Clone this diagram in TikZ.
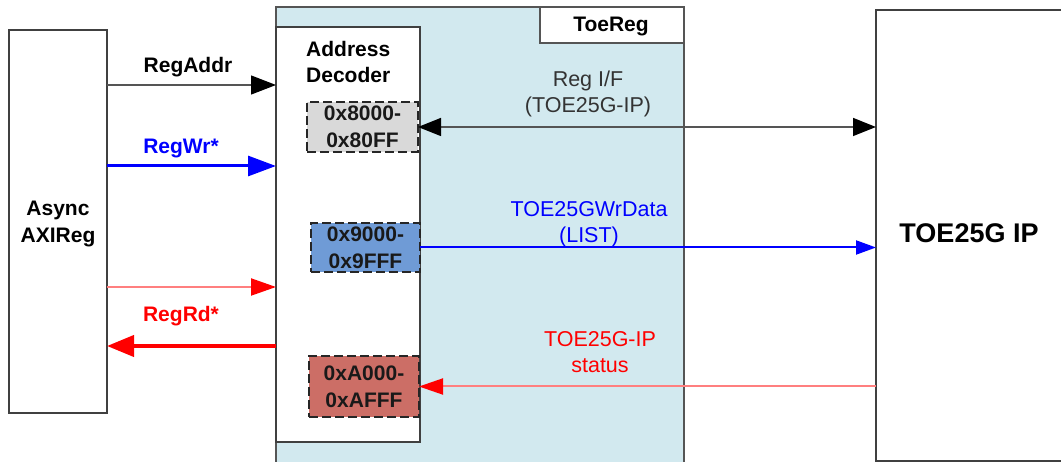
\documentclass[tikz,border=0pt]{standalone}
\usepackage{fontspec}
\setmainfont{Liberation Sans}
\usetikzlibrary{arrows.meta}
\definecolor{bgblue}{HTML}{D2E9EF}
\definecolor{frame}{HTML}{404040}
\definecolor{grayfill}{HTML}{D9D9D9}
\definecolor{bluefill}{HTML}{6F9BD6}
\definecolor{redfill}{HTML}{CC6E66}
\definecolor{sigblue}{HTML}{0000FF}
\definecolor{sigred}{HTML}{FF0000}
\definecolor{sigpink}{HTML}{FF7F7F}
\definecolor{darkline}{HTML}{555555}
\begin{document}
\begin{tikzpicture}[x=1pt,y=-1pt,
  blk/.style={draw=frame, line width=1.4pt, fill=white, inner sep=0pt, outer sep=0pt, anchor=north west},
  rng/.style={draw=black!85, dash pattern=on 9pt off 4pt, line width=1.6pt, inner sep=0pt, outer sep=0pt,
    anchor=north west, align=center, font=\bfseries\fontsize{21}{27}\selectfont, text=black!90},
  blbl/.style={font=\bfseries\fontsize{21}{27}\selectfont, anchor=base, inner sep=0pt},
  nlbl/.style={font=\fontsize{21.5}{26}\selectfont, anchor=base, inner sep=0pt, align=center},
]
\useasboundingbox (0,0) rectangle (1061,462);
\clip (0,0) rectangle (1061,462);
% ToeReg background
\node[blk, fill=bgblue, draw=darkline, line width=1.2pt, minimum width=408pt, minimum height=470pt] (bg) at (276,7) {};
\node[blk, draw=darkline, line width=1.2pt, minimum width=144pt, minimum height=36pt] (tr) at (540,7) {};
\node[blbl] (trl) at (611,32) {ToeReg};
% Address decoder
\node[blk, minimum width=144pt, minimum height=415pt] (dec) at (276,27) {};
\node[blbl, anchor=base west] (decl1) at (306,57) {Address};
\node[blbl, anchor=base west] (decl2) at (306,83) {Decoder};
% ranges
\node[rng, fill=grayfill, minimum width=111pt, minimum height=50pt] (r8) at (307,102) {0x8000-\\0x80FF};
\node[rng, fill=bluefill, minimum width=109pt, minimum height=49pt] (r9) at (311,223) {0x9000-\\0x9FFF};
\node[rng, fill=redfill, minimum width=110pt, minimum height=61pt] (ra) at (309,356) {0xA000-\\0xAFFF};
% Async AXIReg
\node[blk, minimum width=98pt, minimum height=383pt] (axi) at (9,30) {};
\node[blbl, align=center, anchor=center] (axil) at (58,224) {Async\\AXIReg};
% TOE25G IP
\node[blk, minimum width=190pt, minimum height=451pt] (toe) at (876,10) {};
\node[font=\bfseries\fontsize{27}{30}\selectfont, anchor=base, inner sep=0pt] (toel) at (969,243) {TOE25G IP};
% left side arrows
\coordinate (ya) at (0,85);
\coordinate (yw) at (0,166);
\coordinate (yp) at (0,287);
\coordinate (yr) at (0,346);
\draw[darkline, line width=1.3pt, -{Triangle[length=25pt,width=19pt,color=black,fill=black]}] (axi.east |- ya) -- (dec.west |- ya);
\draw[sigblue, line width=3pt, -{Triangle[length=28pt,width=20pt]}] (axi.east |- yw) -- (dec.west |- yw);
\draw[sigpink, line width=2pt, -{Triangle[length=25pt,width=17pt,color=sigred,fill=sigred]}] (axi.east |- yp) -- (dec.west |- yp);
\draw[sigred, line width=4pt, -{Triangle[length=27pt,width=21pt]}] (dec.west |- yr) -- (axi.east |- yr);
\node[blbl] (la) at (188,73) {RegAddr};
\node[blbl, sigblue] (lw) at (181,154) {RegWr*};
\node[blbl, sigred] (lr) at (181,322) {RegRd*};
% right side arrows
\draw[darkline, line width=1.5pt, {Triangle[length=23pt,width=18pt,color=black,fill=black]}-{Triangle[length=23pt,width=18pt,color=black,fill=black]}] (r8.east) -- (toe.west |- r8.east);
\draw[sigblue, line width=2pt, -{Triangle[length=20pt,width=14pt]}] (r9.east) -- (toe.west |- r9.east);
\draw[sigpink, line width=2pt, -{Triangle[length=24pt,width=16pt,color=sigred,fill=sigred]}] (toe.west |- ra.east) -- (ra.east);
\node[nlbl, text=black!80] (lif) at (588,113) {Reg I/F\\(TOE25G-IP)};
\node[nlbl, text=sigblue] (lwd) at (589,243) {TOE25GWrData\\(LIST)};
\node[nlbl, text=sigred] (lst) at (600,373) {TOE25G-IP\\status};
\end{tikzpicture}
\end{document}
